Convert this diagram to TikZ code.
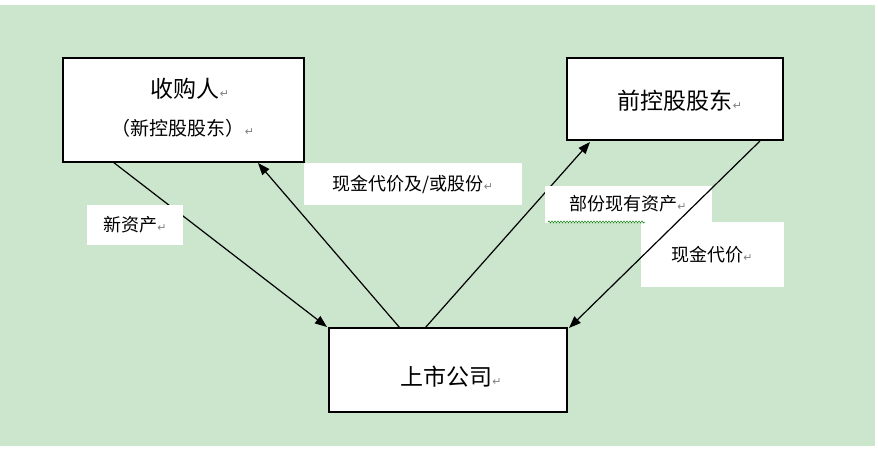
\documentclass[tikz,border=0pt]{standalone}
\usepackage{fontspec}
\newfontfamily\cjk{Noto Sans CJK SC}
\newfontfamily\dejavu{DejaVu Sans}
\usetikzlibrary{arrows.meta,decorations.pathmorphing}
\definecolor{bg}{HTML}{CBE6CD}
\newcommand{\rt}{{\dejavu\color{gray}\fontsize{11}{11}\selectfont↵}}
\begin{document}
\begin{tikzpicture}[x=1pt,y=-1pt,
  box/.style={draw=black,line width=1.2pt,fill=white},
  lab/.style={fill=white,inner sep=0pt,font=\cjk\fontsize{18}{18}\selectfont},
  arr/.style={line width=1.2pt,-{Triangle[length=12pt,width=9pt]}}]
\useasboundingbox (0,0) rectangle (878,451);
\fill[white] (0,0) rectangle (878,451);
\fill[bg] (0,5) rectangle (875,446);
\node[box,minimum width=241pt,minimum height=104pt] (A) at (183.5,110) {};
\node[font=\cjk\fontsize{23}{23}\selectfont] (At) at (190,89) {收购人\rt};
\node[font=\cjk\fontsize{19}{19}\selectfont] (At2) at (183,128) {（新控股股东）\rt};
\node[box,minimum width=216pt,minimum height=82pt] (B) at (675,99) {};
\node[font=\cjk\fontsize{23}{23}\selectfont] (Bt) at (680,101) {前控股股东\rt};
\node[box,minimum width=238pt,minimum height=84pt] (C) at (448,370) {};
\node[font=\cjk\fontsize{23}{23}\selectfont] (Ct) at (451,377) {上市公司\rt};
\coordinate (a1) at (113,162); \coordinate (c1) at (327,327);
\coordinate (c2) at (400,328); \coordinate (a2) at (258,163);
\coordinate (c3) at (425,328); \coordinate (b1) at (590,142);
\coordinate (b2) at (760,141); \coordinate (c4) at (569,328);
\draw[arr] (a1) -- (c1);
\draw[arr] (c2) -- (a2);
\draw[arr] (c3) -- (b1);
\node[lab,minimum width=96pt,minimum height=40pt] (L1) at (135,225) {新资产\rt};
\node[lab,minimum width=218pt,minimum height=42pt] (L2) at (413,184) {现金代价及/或股份\rt};
\node[lab,minimum width=167pt,minimum height=37pt] (L3) at (628,204) {部份现有资产\rt};
\node[lab,minimum width=143pt,minimum height=65pt,text depth=0pt] (L4) at (712,254) {现金代价\rt};
\draw[arr] (b2) -- (c4);
\draw[green!50!black,line width=0.5pt,decorate,decoration={snake,amplitude=1pt,segment length=3pt}] (548,222) -- (645,222);
\end{tikzpicture}
\end{document}
